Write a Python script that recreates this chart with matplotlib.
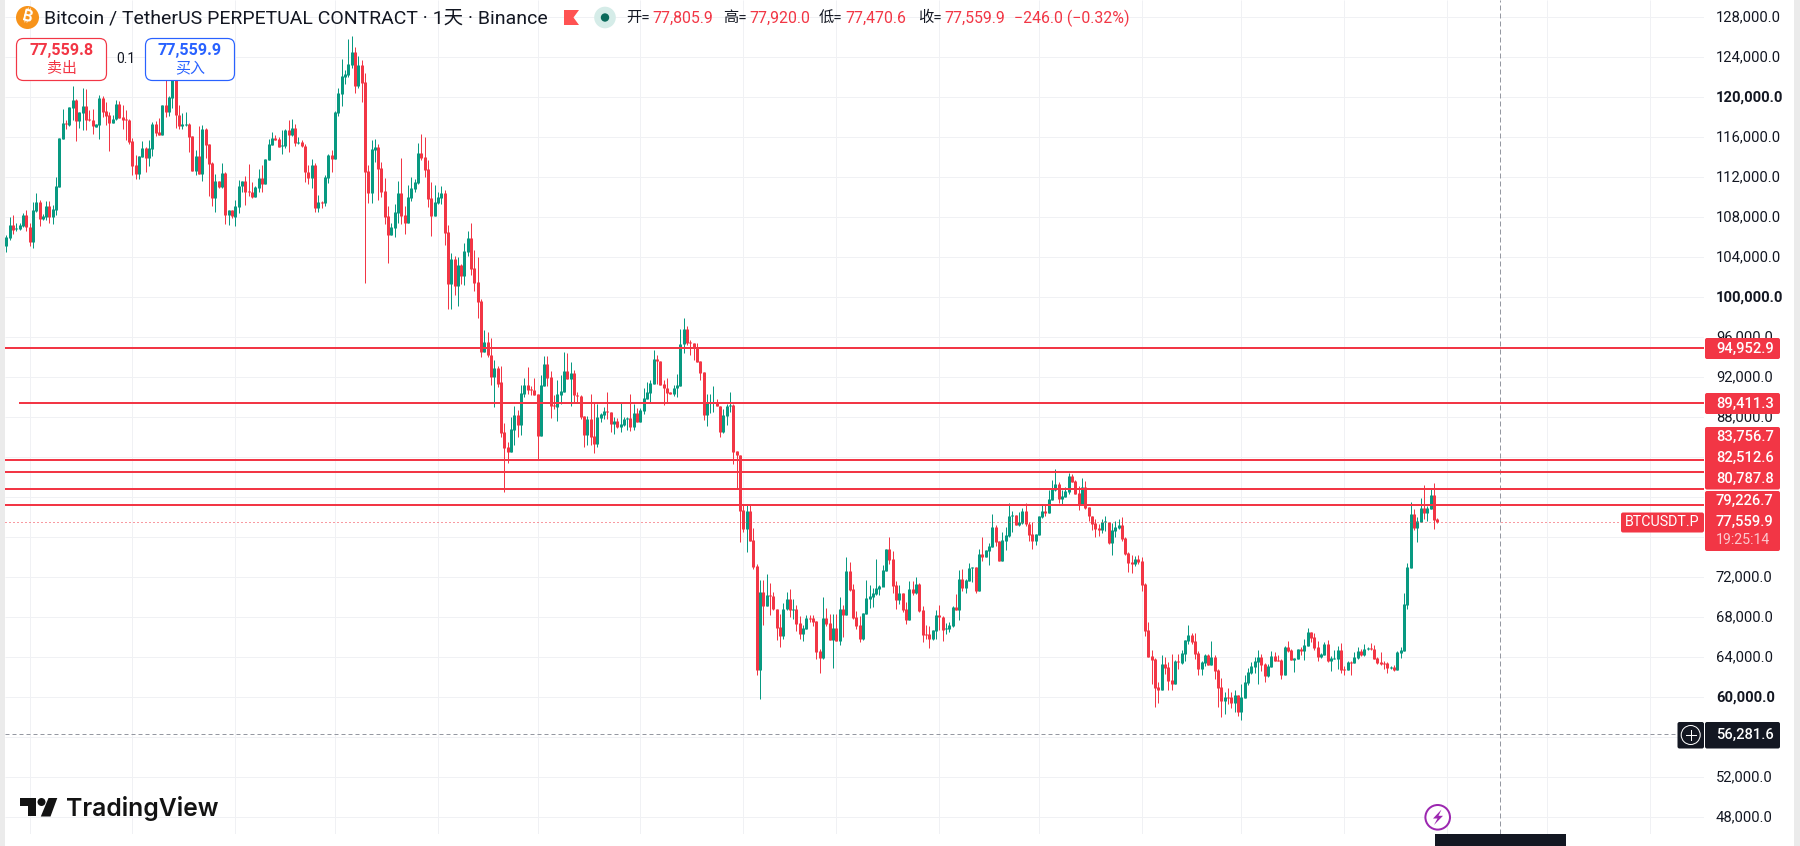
import matplotlib
matplotlib.use("Agg")
import matplotlib.pyplot as plt
import matplotlib.dates as mdates
from matplotlib.patches import FancyBboxPatch, Circle, Polygon, Rectangle
from matplotlib.transforms import ScaledTranslation
import pandas as pd

# ---------- data (prices in thousands USDT) ----------
first_day = "2025-06-24"
opens = [
105.1,105.9,107.2,106.8,106.8,107.1,108.2,107.0,105.5,108.6,109.5,107.8,108.0,109.1,108.0,108.7,111.0,115.8,117.4,117.2,
118.9,119.7,117.6,118.4,119.1,117.8,117.7,117.0,117.2,119.9,118.6,118.2,117.4,117.8,119.3,118.0,117.8,117.7,115.6,113.2,
112.3,114.0,114.9,113.9,114.8,117.3,116.5,116.2,119.2,118.5,119.9,123.3,118.2,117.1,117.2,117.3,116.1,112.6,114.1,112.3,
116.8,115.3,113.4,109.9,111.6,111.0,112.4,108.2,108.7,108.0,109.0,111.1,111.6,110.6,110.5,110.0,110.9,111.9,111.3,113.7,
115.2,115.9,115.8,115.1,115.1,116.7,116.2,116.9,115.4,
115.5,115.1,112.5,111.9,113.2,108.9,109.5,109.4,111.9,114.2,113.8,118.4,120.3,122.0,122.2,123.2,124.5,121.1,123.2,121.5,
112.6,110.4,114.7,115.0,112.9,110.6,108.1,106.2,106.9,108.4,110.4,108.2,107.4,109.9,110.8,111.4,114.4,114.0,112.8,109.9,
108.1,109.4,109.9,110.4,106.5,101.3,103.8,101.1,103.2,102.1,104.5,105.9,102.9,101.5,99.6,
94.5,95.5,94.2,92.0,92.9,91.5,86.5,85.0,84.5,86.7,88.2,87.2,90.3,91.2,90.8,90.7,90.3,86.1,91.1,93.3,
92.0,89.2,89.0,90.2,90.5,92.6,91.8,92.4,90.2,90.1,88.1,86.2,87.8,86.1,85.3,87.9,88.2,88.6,88.5,87.3,
87.6,87.0,87.2,87.8,87.9,87.0,88.4,87.5,88.6,89.8,90.4,91.3,93.8,93.6,91.3,90.9,90.5,90.3,90.9,91.1,
95.3,96.8,95.5,95.4,94.9,93.6,92.5,88.2,89.4,89.4,89.5,89.1,86.5,88.1,89.1,89.2,84.6,84.2,78.7,76.8,
78.6,75.7,73.1,62.7,70.5,69.1,70.2,70.1,68.8,67.0,66.1,68.8,69.8,68.7,68.8,
67.4,66.3,66.8,67.9,67.9,67.6,64.6,63.9,67.9,67.4,65.7,66.9,65.6,68.8,68.2,72.6,70.8,68.0,67.2,65.8,
68.3,69.8,70.0,70.3,70.8,71.0,72.6,74.8,73.8,71.2,69.7,70.4,68.8,67.7,70.8,70.4,71.3,68.7,66.3,66.3,
65.8,66.6,68.2,68.0,66.8,66.8,67.1,69.0,68.7,71.8,70.9,71.6,72.9,73.0,70.6,74.3,74.0,74.6,75.0,77.0,
75.6,73.6,75.6,76.1,78.1,78.2,77.2,77.4,78.6,77.3,76.3,75.6,76.2,78.0,78.6,78.4,79.7,80.7,81.3,79.8,
80.0,80.5,82.1,81.6,80.4,79.2,81.0,79.0,78.1,77.4,76.9,
76.7,77.5,77.5,75.4,76.6,76.9,77.2,75.9,74.4,73.5,73.3,73.8,73.6,71.3,66.7,64.1,63.8,61.0,60.7,63.3,
63.0,61.7,61.3,63.6,63.4,64.3,65.6,66.2,65.6,64.4,62.8,63.4,64.2,63.2,64.0,62.7,61.0,59.6,60.0,60.0,
59.4,60.2,58.5,59.9,61.4,62.4,63.0,63.5,64.0,63.3,62.1,63.0,64.1,63.7,63.7,62.2,65.0,64.7,63.7,63.8,
64.8,64.6,65.1,66.5,66.0,65.0,64.0,64.2,65.3,63.6,63.8,63.8,64.7,62.8,62.7,63.5,63.4,63.9,64.6,64.2,
64.8,64.9,64.8,63.9,63.5,63.4,63.4,62.9,63.0,62.7,64.4,64.6,69.2,72.9,78.3,76.9,77.5,78.9,78.4,78.8,
80.2,77.806]
closes = [
106.0,107.2,106.7,106.9,107.2,108.2,107.0,105.5,108.7,109.5,107.8,108.1,109.1,108.0,108.8,111.1,115.9,117.4,117.3,119.0,
119.7,117.6,118.5,119.1,117.7,117.7,117.1,117.3,119.9,118.5,118.1,117.4,117.8,119.3,117.9,117.7,117.7,115.5,113.1,112.3,
114.1,114.9,113.9,114.9,117.3,116.4,116.2,119.2,118.5,120.0,123.3,118.2,117.1,117.3,117.3,116.0,112.6,114.1,112.3,116.8,
115.2,113.3,109.9,111.6,111.0,112.4,108.2,108.7,108.1,109.1,111.1,111.6,110.5,110.5,110.0,111.0,111.9,111.3,113.8,115.3,
115.9,115.7,115.0,115.2,116.7,116.2,116.9,115.4,115.5,
115.1,112.5,111.9,113.2,108.9,109.5,109.4,112.0,114.2,113.8,118.5,120.4,122.1,122.3,123.3,124.5,121.1,123.2,121.4,112.5,
110.4,114.8,115.0,112.8,110.5,108.0,106.2,107.0,108.5,110.4,108.1,107.4,110.0,110.9,111.5,114.4,113.9,112.7,109.8,108.1,
109.5,110.0,110.4,106.4,101.3,103.8,101.1,103.2,102.1,104.6,105.9,102.8,101.4,99.5,94.5,
95.5,94.2,92.0,92.9,91.3,86.4,84.9,84.5,86.8,88.2,87.2,90.4,91.2,90.7,90.7,90.2,86.1,91.2,93.3,91.9,
89.1,89.1,90.3,90.6,92.6,91.8,92.4,90.2,90.1,88.0,86.2,87.8,86.0,85.3,88.0,88.3,88.6,88.5,87.3,87.6,
87.0,87.3,87.8,87.9,87.0,88.4,87.5,88.7,89.9,90.5,91.4,93.8,93.6,91.2,90.9,90.4,90.3,90.9,91.2,95.3,
96.8,95.4,95.4,94.9,93.5,92.4,88.2,89.4,89.5,89.5,89.1,86.5,88.2,89.1,89.2,84.5,84.2,78.6,76.8,78.6,
75.6,73.0,62.7,70.5,69.1,70.2,70.1,68.8,66.9,66.1,68.8,69.8,68.7,68.8,67.3,
66.3,66.9,67.9,67.8,67.5,64.5,63.9,67.9,67.3,65.7,66.9,65.6,68.8,68.2,72.6,70.7,67.9,67.1,65.8,68.4,
69.9,70.1,70.4,70.9,71.1,72.7,74.8,73.7,71.1,69.7,70.4,68.7,67.7,70.8,70.4,71.3,68.6,66.2,66.2,65.8,
66.7,68.2,68.0,66.7,66.9,67.2,69.0,68.7,71.8,70.9,71.7,72.9,73.0,70.6,74.3,74.0,74.7,75.1,77.0,75.5,
73.6,75.7,76.2,78.1,78.2,77.2,77.5,78.6,77.3,76.2,75.6,76.3,78.1,78.6,78.4,79.8,80.8,81.3,79.8,80.1,
80.6,82.1,81.5,80.3,79.2,81.0,78.9,78.1,77.3,76.8,76.7,
77.5,77.6,75.4,76.7,77.0,77.2,75.8,74.3,73.4,73.3,73.8,73.5,71.2,66.6,64.0,63.7,60.9,60.7,63.3,62.9,
61.6,61.3,63.6,63.5,64.4,65.7,66.2,65.5,64.3,62.8,63.5,64.2,63.2,64.0,62.6,60.9,59.6,60.0,59.9,59.4,
60.2,58.5,60.0,61.5,62.5,63.1,63.6,64.0,63.2,62.1,63.1,64.1,63.6,63.6,62.2,65.0,64.6,63.7,63.9,64.8,
64.6,65.2,66.5,65.9,64.9,64.0,64.3,65.3,63.6,63.9,63.9,64.7,62.7,62.7,63.5,63.4,64.0,64.6,64.2,64.8,
64.9,64.8,63.8,63.4,63.3,63.3,62.9,63.0,62.7,64.5,64.7,69.3,73.0,78.3,76.9,77.6,78.9,78.4,78.9,80.2,
77.7,77.56]
highs = [
106.2,108.0,108.2,107.4,107.4,108.4,108.7,107.4,109.5,110.4,109.7,108.3,109.6,109.6,109.2,112.0,115.9,118.8,117.7,119.0,
121.1,119.8,118.5,120.9,120.8,118.7,118.8,117.3,120.2,120.1,119.5,118.5,118.2,119.7,119.6,119.2,118.7,117.8,115.9,114.2,
114.1,115.6,115.0,115.7,117.5,117.6,117.9,119.2,121.7,120.1,123.7,124.5,119.2,118.4,118.5,117.4,116.1,114.7,117.1,117.2,
116.9,115.3,113.5,112.3,111.6,113.4,112.5,108.7,108.7,109.7,111.7,111.6,112.1,113.3,111.5,111.1,112.8,113.2,113.8,115.8,
116.5,116.2,116.0,116.7,116.8,117.7,117.8,117.3,116.0,
115.7,115.3,113.2,113.8,113.4,110.2,109.6,112.2,114.3,114.7,118.6,120.9,123.8,122.7,125.8,126.1,125.0,124.1,123.7,122.4,
113.2,115.7,115.8,115.3,113.5,111.9,109.1,107.4,109.3,111.6,113.9,109.1,111.2,112.0,111.8,115.4,116.3,116.0,113.7,111.5,
111.2,110.5,111.1,110.7,107.2,104.4,104.1,104.0,103.3,105.4,106.6,107.4,104.7,104.0,99.8,
96.7,96.5,95.9,93.7,93.1,93.1,87.4,85.5,88.0,89.1,88.7,91.2,91.9,93.0,91.1,91.9,90.3,92.2,94.1,94.1,
92.6,90.2,91.7,92.2,94.5,94.4,93.5,92.7,90.5,90.2,88.1,88.1,90.3,89.4,89.3,88.4,89.0,90.5,88.5,88.0,
87.9,89.5,88.0,88.0,90.3,89.3,88.9,88.9,90.9,91.5,91.7,94.7,94.2,93.6,91.7,91.9,90.5,91.2,92.3,96.8,
97.9,97.1,95.7,95.4,95.4,93.6,92.5,90.3,90.3,91.1,89.8,89.1,88.8,89.3,90.5,89.3,84.6,84.2,79.2,79.3,
79.3,76.9,73.3,71.7,71.7,72.3,71.4,70.5,68.8,68.3,69.4,70.5,70.8,69.8,69.2,
68.1,67.2,68.2,68.2,68.2,67.6,64.8,70.0,68.9,68.3,68.3,68.3,70.0,69.2,74.0,73.5,71.3,68.6,68.1,68.4,
71.7,71.2,70.9,73.8,71.2,73.2,74.8,76.0,74.6,71.6,71.2,70.4,69.5,71.6,71.6,72.0,71.4,69.1,67.2,67.1,
66.7,68.7,69.2,68.1,67.4,67.5,69.1,70.3,72.7,72.8,71.8,73.4,73.0,73.0,74.8,76.0,74.7,75.4,78.3,77.2,
75.6,76.5,77.0,79.4,78.6,78.2,78.5,78.9,79.4,77.5,77.5,76.3,78.1,79.2,79.2,80.7,81.7,82.8,81.5,80.7,
81.0,82.4,82.3,81.7,81.1,81.9,81.6,79.0,78.1,77.8,77.3,
77.8,78.1,77.5,77.4,77.6,77.8,78.0,76.0,74.5,74.2,74.1,74.2,74.0,71.4,67.5,64.7,63.9,61.5,64.2,64.0,
63.5,64.3,63.7,64.3,64.7,65.7,67.2,66.4,66.4,64.6,63.6,64.3,64.3,65.6,64.2,62.8,61.9,60.5,60.9,60.5,
60.7,60.2,61.3,62.2,62.9,63.5,64.0,64.7,64.3,63.4,63.3,64.6,64.5,64.2,63.8,65.1,65.6,64.8,63.9,64.8,
65.0,65.8,66.9,66.5,66.4,65.6,64.4,65.5,65.7,64.1,64.7,65.1,65.4,63.1,63.6,63.6,64.5,65.0,64.8,65.3,
65.0,65.4,65.2,64.0,64.5,63.6,63.5,63.1,63.2,64.6,65.0,70.4,73.4,79.5,78.8,78.0,79.9,81.2,79.1,80.8,
81.4,77.92]
lows = [
104.5,105.7,106.3,106.6,106.7,107.0,106.6,105.1,104.9,108.5,107.1,107.7,107.7,107.4,107.3,108.2,111.0,115.8,116.8,117.1,
117.7,115.6,116.9,116.7,116.7,117.6,116.3,117.0,115.8,118.0,117.2,114.6,117.4,117.7,117.9,116.8,115.7,115.3,112.2,111.8,
111.8,114.0,112.5,113.1,114.1,116.1,116.2,116.2,118.0,118.1,118.9,116.9,116.8,116.8,117.1,114.5,112.6,112.2,112.3,111.6,
113.9,110.1,109.1,108.5,110.9,110.9,107.3,107.2,107.9,107.1,108.4,110.5,109.2,110.1,109.9,110.0,110.5,110.5,111.3,113.7,
115.2,115.7,115.0,114.3,114.9,114.5,116.1,115.1,115.3,
115.0,111.5,111.3,110.9,108.5,108.5,108.9,109.1,111.4,112.5,113.8,118.1,119.1,121.3,122.0,122.9,120.4,120.9,119.5,101.4,
109.4,109.4,113.5,109.7,110.0,107.3,103.4,106.2,106.0,107.4,107.3,106.3,107.4,109.6,110.5,111.3,113.7,112.0,109.0,106.1,
108.1,109.3,109.3,105.2,98.8,98.8,100.2,99.1,101.3,101.2,104.1,102.2,100.6,97.9,94.0,
94.5,94.0,91.2,89.0,91.0,86.0,80.5,83.4,84.5,85.2,86.0,86.2,90.0,90.3,90.2,90.2,83.7,86.1,91.1,91.1,
87.9,88.8,87.6,89.3,90.5,91.8,89.1,89.5,89.4,87.8,85.0,85.2,85.2,84.4,85.0,87.5,87.8,87.8,86.5,86.3,
86.9,86.5,87.1,86.7,86.6,86.7,87.5,87.5,88.3,89.8,89.5,91.3,91.3,91.2,89.2,89.5,90.3,90.1,90.0,91.1,
94.4,95.2,94.2,93.7,93.5,91.7,87.7,87.1,88.4,88.5,89.1,86.0,86.4,87.2,88.5,83.3,80.9,75.5,76.5,74.5,
75.6,72.8,62.2,59.8,67.2,69.1,68.2,68.7,65.7,65.0,65.8,68.7,68.0,67.8,66.6,
65.8,65.6,66.8,67.5,67.1,63.8,62.4,63.8,67.1,65.7,62.9,65.6,65.2,66.0,68.2,70.6,67.8,66.8,65.5,65.7,
68.3,68.9,69.0,70.2,70.2,72.2,72.6,73.3,70.4,68.8,69.3,68.5,67.3,67.7,70.2,70.3,68.5,65.5,65.8,64.9,
65.7,65.8,66.7,65.6,66.3,66.5,67.0,68.7,67.7,70.6,70.4,71.6,71.5,70.4,70.6,73.6,74.0,73.2,75.0,75.1,
73.6,73.6,74.7,76.0,76.5,77.2,77.1,77.3,77.1,75.6,74.8,75.2,76.2,77.9,78.1,78.4,79.7,80.6,79.4,79.2,
80.0,80.3,81.5,80.3,78.7,79.2,78.8,77.6,76.7,76.0,76.1,
76.4,76.6,75.3,74.2,76.0,76.8,75.6,74.2,72.5,72.4,73.1,73.3,70.6,66.1,64.0,61.3,59.0,59.4,60.7,62.3,
60.7,60.7,61.3,62.8,63.3,63.6,65.3,65.3,63.8,62.2,62.2,63.1,63.2,63.2,61.8,59.0,58.0,58.3,59.3,58.9,
58.5,58.1,57.7,59.9,61.2,62.3,62.4,61.3,62.6,61.5,62.0,63.0,63.6,63.6,61.8,62.2,64.5,63.7,62.5,63.8,
64.2,63.7,65.1,65.5,64.7,63.6,63.9,64.2,63.5,62.6,63.8,62.8,62.4,62.2,62.7,62.2,63.4,63.8,64.1,64.1,
64.7,64.7,63.8,63.3,63.2,62.8,62.4,62.8,62.6,62.7,63.9,64.6,68.8,72.9,76.7,75.5,77.5,77.8,77.6,78.8,
76.8,77.47]

level_prices = [94952.9, 89411.3, 83756.7, 82512.6, 80787.8, 79226.7]
last_price = 77559.9
cross_price = 56281.6
cross_date = "2026-09-17"
y_ticks = list(range(48000, 128001, 4000))
bold_ticks = [60000, 80000, 100000, 120000]
month_labels = ["7月","8月","9月","10月","11月","12月","2026","2月","3月","4月","5月","6月","7月","8月","9月","10月","11月","12月"]
ohlc_names = ["开", "高", "低", "收"]
ohlc_values = [77805.9, 77920.0, 77470.6, 77559.9]
change_text = "−246.0 (−0.32%)"
title_text = "Bitcoin / TetherUS PERPETUAL CONTRACT · 1天 · Binance"
countdown = "19:25:14"
bid, ask, spread = 77559.8, 77559.9, "0.1"

assert len(opens) == len(closes) == len(highs) == len(lows) == 432, (len(opens), len(closes), len(highs), len(lows))

# ---------- styles ----------
RED, GREEN, BLUE, INK = "#F23645", "#089981", "#2962FF", "#131722"
GRID, GRAY = "#f0f1f4", "#9598a1"
UI = ["Roboto", "Noto Sans CJK SC", "DejaVu Sans"]
plt.rcParams["font.family"] = UI
W, H = 1800, 846
PX = 72 / 100

fig = plt.figure(figsize=(W / 100, H / 100), dpi=100, facecolor="white")
L, R, B = 4.5, 1704.0, 834.0
ax = fig.add_axes([L / W, 1 - B / H, (R - L) / W, B / H])
ax.set_facecolor("white")
for s in ax.spines.values():
    s.set_visible(False)

days = mdates.date2num(pd.date_range(first_day, periods=len(opens), freq="D"))
px_per_day = 3.32
x0 = days[0] - (6.33 - L) / px_per_day
ax.set_xlim(x0, x0 + (R - L) / px_per_day)
# 100 USDT per pixel; 60,000 sits at y = 697.3 px
ax.set_ylim(60000 + (697.3 - B) * 100, 60000 + 697.3 * 100)

months = pd.date_range("2025-07-01", "2026-12-01", freq="MS")
month_x = mdates.date2num(months)
ax.vlines(month_x, *ax.get_ylim(), color=GRID, lw=1 * PX, zorder=1)
ax.hlines(y_ticks, *ax.get_xlim(), color=GRID, lw=1 * PX, zorder=1)

o = [v * 1000 for v in opens]
c = [v * 1000 for v in closes]
h = [v * 1000 for v in highs]
l = [v * 1000 for v in lows]
colors = [GREEN if a >= b else RED for a, b in zip(c, o)]
wick = ax.vlines(days, l, h, colors=colors, lw=1 * PX, zorder=3)
body_lo = [min(a, b) for a, b in zip(o, c)]
body_hi = [max(a, b, min(a, b) + 100) for a, b in zip(o, c)]
body = ax.vlines(days, body_lo, body_hi, colors=colors, lw=3 * PX, zorder=4)
for coll in (wick, body):
    coll.set_capstyle("butt")
    coll.set_snap(True)

# horizontal levels (the second one starts a little to the right)
for i, p in enumerate(level_prices):
    start = x0 + (19 - L) / px_per_day if i == 1 else x0
    ax.hlines(p, start, ax.get_xlim()[1], color=RED, lw=2 * PX, zorder=5).set_snap(True)
ax.hlines(last_price, x0, x0 + (1621 - L) / px_per_day, color=RED, lw=1 * PX,
          linestyles=(0, (1, 3)), zorder=5).set_snap(True)
ax.hlines(cross_price, x0, x0 + (1677 - L) / px_per_day, color=GRAY, lw=1 * PX,
          linestyles=(0, (4, 3)), zorder=2).set_snap(True)
ax.vlines(mdates.date2num(pd.Timestamp(cross_date)), *ax.get_ylim(), color=GRAY, lw=1 * PX,
          linestyles=(0, (5, 3)), zorder=2).set_snap(True)

ax.set_xticks([])
ax.yaxis.tick_right()
ax.set_yticks(y_ticks)
ax.set_yticklabels([f"{t:,.1f}" for t in y_ticks])
ax.tick_params(axis="y", length=0, pad=12 * PX, labelsize=10.6, labelcolor=INK)
nudge = ScaledTranslation(0, 1.5 / 100, fig.dpi_scale_trans)
for t, lab in zip(y_ticks, ax.get_yticklabels()):
    lab.set_ha("left")
    lab.set_transform(lab.get_transform() + nudge)
    if t in bold_ticks:
        lab.set_fontweight("bold")

# ---------- overlay in pixels: header, buttons, price tags, logo ----------
ov = fig.add_axes([0, 0, 1, 1], facecolor="none")
ov.set_xlim(0, W)
ov.set_ylim(H, 0)
ov.axis("off")


def box(x0_, y0_, x1_, y1_, fc, ec="none", lw=0.0, r=2.0, z=10):
    ov.add_patch(FancyBboxPatch((x0_, y0_), x1_ - x0_, y1_ - y0_,
                                boxstyle=f"round,pad=0,rounding_size={r}",
                                fc=fc, ec=ec, lw=lw * PX, zorder=z))


def label(x, y, s, color=INK, size=10.6, ha="left", weight="normal", z=12, va="center"):
    return ov.text(x, y, s, color=color, fontsize=size, ha=ha, va=va, fontweight=weight, zorder=z)


# grey window edges
ov.add_patch(Rectangle((0, 0), 4.5, H, fc="#ebebeb", ec="none", zorder=20))
ov.add_patch(Rectangle((1794, 0), 6, H, fc="#ebebeb", ec="none", zorder=20))

# header
ov.add_patch(Circle((27.5, 17.5), 11.5, fc="#F7931A", ec="none", zorder=12))
ov.text(27.5, 17.5, "₿", color="white", fontsize=11, ha="center", va="center", rotation=-14,
        fontweight="bold", family=["Inter", "Noto Sans", "Open Sans", "Lato", "Roboto"], zorder=13)
label(44, 18.5, title_text, size=14.0)
ov.add_patch(Polygon([(564, 10), (579, 10), (573.5, 17.5), (579, 25), (564, 25)],
                     fc="#FF5252", ec="none", zorder=12))
ov.add_patch(Circle((605, 17.5), 10.8, fc="#d5ece8", ec="none", zorder=12))
ov.add_patch(Circle((605, 17.5), 4.2, fc="#0b6b5c", ec="none", zorder=13))
name_x = [626, 723, 819, 918]
for x, n, v in zip(name_x, ohlc_names, ohlc_values):
    label(x, 18, n + "=", size=11)
    label(x + 26, 18, f"{v:,.1f}", color=RED, size=11.4)
label(1014, 18, change_text, color=RED, size=11.4)

# buy / sell buttons
box(16.5, 38.5, 106.5, 80.5, "white", RED, 1.2, r=7)
label(61.5, 50.5, f"{bid:,.1f}", color=RED, size=11.6, ha="center", weight="bold")
label(61.5, 68.5, "卖出", color=RED, size=10.8, ha="center")
label(125.5, 59, spread, size=10, ha="center")
box(145.5, 38.5, 234.5, 80.5, "white", BLUE, 1.2, r=7)
label(190, 50.5, f"{ask:,.1f}", color=BLUE, size=11.6, ha="center", weight="bold")
label(190, 68.5, "买入", color=BLUE, size=10.8, ha="center")

# price tags
TAG_L, TAG_R = 1705, 1780
box(TAG_L, 338, TAG_R, 359, RED)
box(TAG_L, 393, TAG_R, 414, RED)
box(TAG_L, 427, TAG_R, 489.5, RED)
box(TAG_L, 491, TAG_R, 551, RED)
tag_y = [348.5, 403.5, 437, 458, 479, 500.5]
for y, p in zip(tag_y, level_prices):
    label(1716, y, f"{p:,.1f}", color="white", weight="medium")
label(1716, 521.5, f"{last_price:,.1f}", color="white", weight="medium")
label(1716, 540.5, countdown, color="#fbc7cd", size=10.2)
box(1621, 512.5, 1704, 532.5, RED)
label(1662.5, 522, "BTCUSDT.P", color="white", ha="center", size=10.3)

# crosshair price
box(1677.5, 722, 1704, 748.5, INK)
box(TAG_L, 722, TAG_R, 748.5, INK)
label(1716, 735, f"{cross_price:,.1f}", color="white", weight="medium")
ov.add_patch(Circle((1690.7, 735), 9.5, fc="none", ec="white", lw=1 * PX, zorder=12))
ov.plot([1686, 1695.5], [735, 735], color="white", lw=1 * PX, zorder=13)
ov.plot([1690.7, 1690.7], [730.3, 739.8], color="white", lw=1 * PX, zorder=13)

# lightning marker
ov.add_patch(Circle((1437.7, 817.3), 12.3, fc="white", ec="#9C27B0", lw=2 * PX, zorder=12))
ov.add_patch(Polygon([(1441.5, 809.5), (1433, 818.5), (1437.5, 818.5), (1434, 825),
                      (1443, 815.8), (1438.5, 815.8)], fc="#9C27B0", ec="none", zorder=13))

# TradingView logo
ov.add_patch(Polygon([(20, 798), (36, 798), (36, 816.5), (28, 816.5), (28, 806), (20, 806)],
                     fc="#131313", ec="none", zorder=12))
ov.add_patch(Circle((41.5, 802), 4, fc="#131313", ec="none", zorder=12))
ov.add_patch(Polygon([(48.5, 798), (57.3, 798), (50.5, 816.5), (40.8, 816.5)],
                     fc="#131313", ec="none", zorder=12))
ov.text(66, 816, "TradingView", color="#131313", fontsize=17.8, family="Inter", fontweight="semibold",
        ha="left", va="baseline", zorder=12)

# date strip (only the tops of the labels fit in the picture)
for mx, m in zip(months, month_labels):
    px = L + (mdates.date2num(mx) - x0) * px_per_day
    if not 1430 < px < 1570:
        ov.text(px, 846.6, m, color=INK, fontsize=10.6, ha="left", va="top", zorder=12, clip_on=False)
ov.add_patch(Rectangle((1435, 834), 131, 12, fc=INK, ec="none", zorder=11))
ov.text(1500.5, 846.6, "周四 17 9月 '26", color="white", fontsize=10.6, ha="center", va="top",
        zorder=12, clip_on=False)

fig.savefig("out.png", dpi=100, facecolor="white")
